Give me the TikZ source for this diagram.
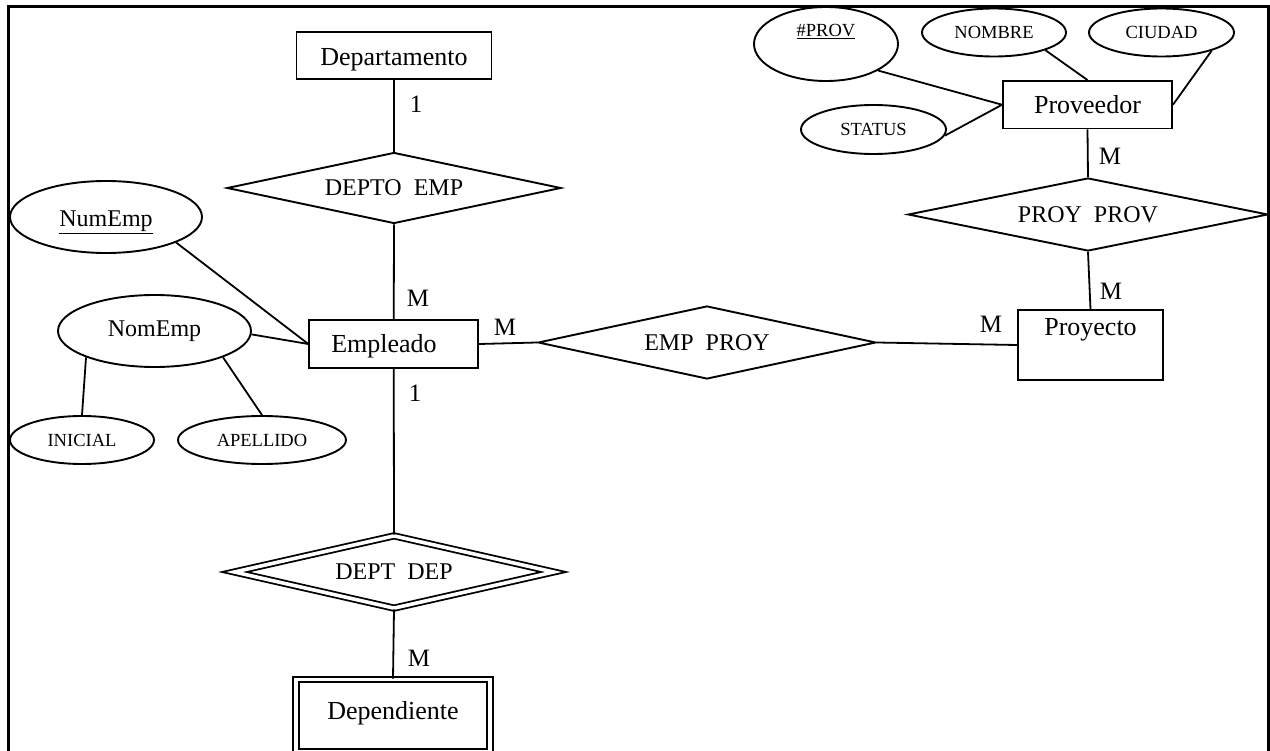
\documentclass[tikz,border=0pt]{standalone}
\usepackage{fontspec}
\setmainfont{Liberation Serif}
\usetikzlibrary{shapes.geometric}
\begin{document}
\begin{tikzpicture}[x=1pt,y=-1pt,
  every node/.style={inner sep=0pt},
  ent/.style={draw, rectangle, line width=1.9pt, font=\fontsize{26}{30}\selectfont},
  rel/.style={draw, diamond, line width=1.9pt, font=\fontsize{24}{28}\selectfont},
  attr/.style={draw, ellipse, line width=1.9pt, font=\fontsize{24}{28}\selectfont},
  sattr/.style={attr, font=\fontsize{18.5}{22}\selectfont},
  card/.style={font=\fontsize{25}{30}\selectfont},
  link/.style={line width=1.8pt},
  weak/.style={double, double distance=3.6pt, line width=1.8pt}
]
\useasboundingbox (0,0) rectangle (1270,751);
\clip (0,0) rectangle (1270,751);

% page frame, open at the bottom
\draw[line width=2.8pt] (8.5,770) -- (8.5,6.5) -- (1268.3,6.5) -- (1268.3,770);

% entities
\node[ent, minimum width=195pt, text height=34pt, text depth=13pt] (dept) at (394,55.5) {Departamento};
\node[ent, text width=125pt, inner xsep=22pt, align=left, text height=33pt, text depth=15pt] (emp) at (393.75,344) {Empleado};
\node[ent, minimum width=145pt, text height=26pt, text depth=44pt] (proy) at (1090.5,345) {Proyecto};
\node[ent, minimum width=169pt, text height=33pt, text depth=14.5pt] (prov) at (1087.5,104.75) {Proveedor};
\node[ent, weak, minimum width=194pt, text height=39.5pt, text depth=32.5pt] (dep) at (393,715.5) {Dependiente};

% relationships
\node[rel, minimum width=334pt, minimum height=71pt, aspect=4.7] (deptoemp) at (394,188) {DEPTO\ \ EMP};
\node[rel, minimum width=338pt, minimum height=73pt, aspect=4.6] (empproy) at (707,342.5) {EMP\ \ PROY};
\node[rel, minimum width=360pt, minimum height=73pt, aspect=4.9] (proyprov) at (1088,214.5) {PROY\ \ PROV};
\node[rel, weak, minimum width=320pt, minimum height=73pt, aspect=4.4] (deptdep) at (394,572) {DEPT\ \ DEP};

% attributes
\node[attr, minimum width=192pt, minimum height=72pt, text height=19pt, text depth=0pt, yshift=-2pt] (numemp) at (106,215) {\underline{NumEmp}};
\node[attr, minimum width=193pt, minimum height=72pt] (nomemp) at (154.5,331) {NomEmp};
\node[sattr, minimum width=144pt, minimum height=48pt] (inicial) at (82,440) {INICIAL};
\node[sattr, minimum width=168pt, minimum height=48pt] (apellido) at (262,440) {APELLIDO};
\node[sattr, minimum width=144pt, minimum height=74pt, text height=13pt, text depth=27pt] (nprov) at (826,44) {\underline{\#PROV}};
\node[sattr, minimum width=144pt, minimum height=48pt] (nombre) at (994,32.5) {NOMBRE};
\node[sattr, minimum width=145pt, minimum height=48pt] (ciudad) at (1161.5,32.5) {CIUDAD};
\node[sattr, minimum width=145pt, minimum height=49pt] (status) at (873.5,129.5) {STATUS};

% relationship links
\draw[link] (dept.south) -- (deptoemp.north);
\draw[link] (deptoemp.south) -- (emp.north);
\draw[link] (emp.south) -- (deptdep.north);
\draw[link] (deptdep.south) -- (dep.north);
\draw[link] (emp.east) -- (empproy.west);
\draw[link] (empproy.east) -- (proy.west);
\draw[link] (proy.north) -- (proyprov.south);
\draw[link] (proyprov.north) -- (prov.south);

% attribute links
\draw[link] (numemp.-20) -- (emp.west);
\draw[link] (nomemp.-2) -- (emp.west);
\draw[link] (nomemp.201) -- (inicial.north);
\draw[link] (nomemp.-21) -- (apellido.north);
\draw[link] (nprov.-27) -- (prov.west);
\draw[link] (status.-5) -- (prov.west);
\draw[link] (nombre.-19) -- (prov.north);
\draw[link] (ciudad.-20) -- (prov.east);

% cardinalities
\node[card] (c1) at (416,104) {1};
\node[card] (c2) at (418,298) {M};
\node[card] (c3) at (415,393) {1};
\node[card] (c4) at (505,327) {M};
\node[card] (c5) at (991,324) {M};
\node[card] (c6) at (1111,291) {M};
\node[card] (c7) at (1110,156) {M};
\node[card] (c8) at (419,658) {M};
\end{tikzpicture}
\end{document}
